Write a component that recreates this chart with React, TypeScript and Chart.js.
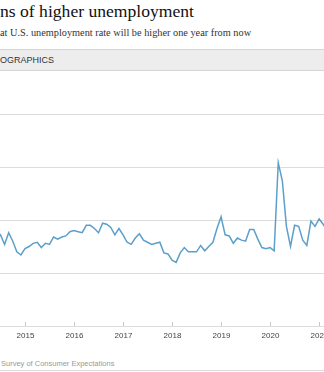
import React, { useEffect, useRef } from "react";
import { Chart, registerables } from "chart.js";

Chart.register(...registerables);

// first month of the series: June 2014 (x is months since Jan 2015)
const startYear = 2014;
const startMonth = 6;

const values: number[] = [
  // 2014 Jun-Dec
  38.2, 38.6, 37.7, 38.8, 38.0, 37.0, 36.7,
  // 2015
  37.3, 37.5, 37.8, 37.9, 37.4, 37.8, 37.7, 38.4, 38.2, 38.4, 38.5, 38.9,
  // 2016
  39.0, 38.9, 38.8, 39.5, 39.5, 39.2, 38.8, 39.7, 39.6, 39.3, 38.6, 39.2,
  // 2017
  38.6, 37.9, 37.7, 38.3, 38.7, 38.1, 37.9, 37.7, 37.8, 37.9, 36.9, 36.8,
  // 2018
  36.2, 36.0, 36.9, 37.4, 37.0, 37.0, 37.0, 37.6, 37.1, 37.5, 37.9, 39.2,
  // 2019
  40.3, 38.6, 38.5, 37.8, 38.3, 38.1, 38.0, 39.1, 39.1, 38.2, 37.4, 37.3,
  // 2020
  37.4, 37.1, 45.4, 43.7, 39.4, 37.5, 39.5, 39.4, 38.1, 37.6, 39.9, 39.4,
  // 2021
  40.1, 39.6, 38.9,
];

const yearTicks: string[] = ["2015", "2016", "2017", "2018", "2019", "2020", "2021"];

const titleText = "ns of higher unemployment";
const subtitleText = "at U.S. unemployment rate will be higher one year from now";
const bandText = "OGRAPHICS";
const sourceText = "Survey of Consumer Expectations";

export default function App() {
  const ref = useRef<HTMLCanvasElement | null>(null);

  useEffect(() => {
    if (!ref.current) return;
    const startIdx = (startYear - 2015) * 12 + (startMonth - 1);
    const points = values.map((v, i) => ({ x: startIdx + i, y: v }));

    const xAxisPlugin = {
      id: "xAxisDraw",
      afterDraw(chart: any) {
        const { ctx, chartArea } = chart;
        const xs = chart.scales.x;
        ctx.save();
        yearTicks.forEach((lab) => {
          const m = (parseInt(lab, 10) - 2015) * 12;
          const px = Math.round(xs.getPixelForValue(m)) + 0.5;
          ctx.strokeStyle = "#c8c8c8";
          ctx.lineWidth = 1;
          ctx.beginPath();
          ctx.moveTo(px, chartArea.bottom - 4);
          ctx.lineTo(px, chartArea.bottom);
          ctx.stroke();
          ctx.fillStyle = "#444";
          ctx.font = "8px 'Liberation Sans', Arial, sans-serif";
          ctx.textAlign = "center";
          ctx.textBaseline = "middle";
          ctx.fillText(lab, px, chartArea.bottom + 10);
        });
        ctx.restore();
      },
    };

    const chart = new Chart(ref.current, {
      type: "line",
      data: {
        datasets: [
          {
            data: points,
            borderColor: "#5b9fca",
            borderWidth: 1.5,
            pointRadius: 0,
            tension: 0,
            fill: false,
          },
        ],
      },
      options: {
        animation: false,
        responsive: false,
        layout: { padding: { top: 14, bottom: 24, left: 0, right: 0 } },
        plugins: { legend: { display: false }, tooltip: { enabled: false } },
        scales: {
          x: {
            type: "linear",
            min: -6.12,
            max: 73.2,
            grid: { display: false, drawTicks: false },
            border: { display: false },
            ticks: { display: false },
          },
          y: {
            min: 30,
            max: 50,
            ticks: { display: false, stepSize: 5 },
            grid: { color: "#dcdcdc", lineWidth: 1, drawTicks: false },
            border: { display: false },
          },
        },
      },
      plugins: [xAxisPlugin],
    });
    return () => chart.destroy();
  }, []);

  return (
    <div
      style={{
        position: "absolute",
        left: 0,
        top: 0,
        width: 324,
        height: 372,
        overflow: "hidden",
        background: "#fff",
      }}
    >
      <div
        style={{
          position: "absolute",
          left: 0,
          top: 2,
          fontFamily: "'Liberation Serif', Georgia, serif",
          fontSize: 17.6,
          lineHeight: "18px",
          color: "#111",
          whiteSpace: "nowrap",
        }}
      >
        {titleText}
      </div>
      <div
        style={{
          position: "absolute",
          left: 0,
          top: 27,
          fontFamily: "'Liberation Serif', Georgia, serif",
          fontSize: 10.3,
          lineHeight: "12px",
          color: "#333",
          whiteSpace: "nowrap",
        }}
      >
        {subtitleText}
      </div>
      <div
        style={{
          position: "absolute",
          left: 0,
          top: 49,
          width: 324,
          height: 22,
          boxSizing: "border-box",
          background: "#ededed",
          borderTop: "1px solid #d6d6d6",
          borderBottom: "1px solid #d6d6d6",
          fontFamily: "'Liberation Sans', Arial, sans-serif",
          fontSize: 9,
          lineHeight: "20px",
          color: "#333",
          whiteSpace: "nowrap",
        }}
      >
        {bandText}
      </div>
      <canvas
        ref={ref}
        width={324}
        height={250}
        style={{ position: "absolute", left: 0, top: 100, display: "block" }}
      />
      <div
        style={{
          position: "absolute",
          left: 1,
          top: 359,
          fontFamily: "'Liberation Sans', Arial, sans-serif",
          fontSize: 7.5,
          lineHeight: "10px",
          color: "#999",
          whiteSpace: "nowrap",
        }}
      >
        {sourceText}
      </div>
      <div
        style={{
          position: "absolute",
          left: 0,
          top: 370,
          width: 324,
          height: 1,
          background: "#dcdcdc",
        }}
      />
    </div>
  );
}
